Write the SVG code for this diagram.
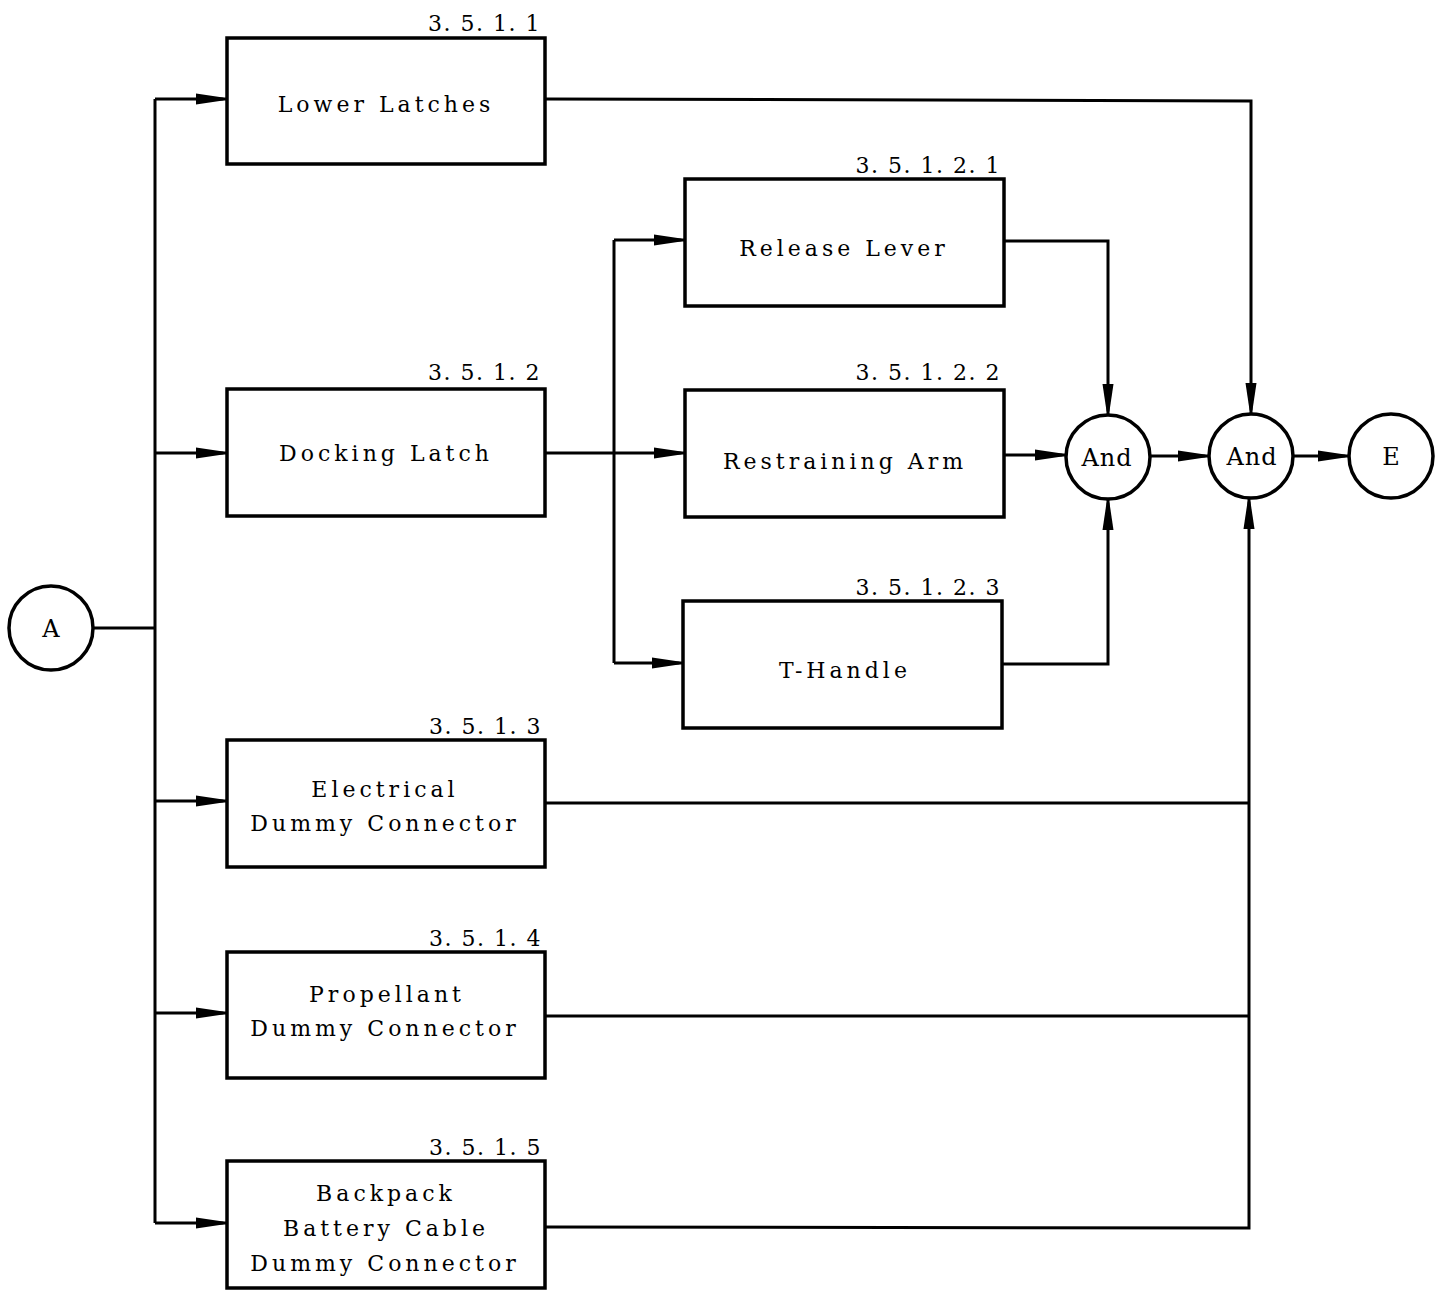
<svg xmlns="http://www.w3.org/2000/svg" width="1445" height="1290" viewBox="0 0 1445 1290">
<defs>
<marker id="arr" markerWidth="30" markerHeight="14" refX="30" refY="7" orient="auto" markerUnits="userSpaceOnUse">
<path d="M0,1.5 L27,5.5 L30,7 L27,8.5 L0,12.5 Z" fill="#000"/>
</marker>
<style>
.n rect, .n circle { fill: #fff; stroke: #000; stroke-width: 3.5; }
.c path { fill: none; stroke: #000; stroke-width: 3; }
text { font-family: "DejaVu Serif", "Liberation Serif", serif; fill: #000; }
.lbl { font-size: 22px; letter-spacing: 4px; text-anchor: middle; }
.cir { font-size: 24px; letter-spacing: 1px; text-anchor: middle; }
.num { font-size: 22px; letter-spacing: 1.5px; text-anchor: end; }
</style>
</defs>
<rect width="1445" height="1290" fill="#fff"/>
<g class="c" id="connectors">
<path d="M93,628 H155"/>
<path d="M155,99 V1223"/>
<path d="M155,99 H226" marker-end="url(#arr)"/>
<path d="M155,453 H226" marker-end="url(#arr)"/>
<path d="M155,801 H226" marker-end="url(#arr)"/>
<path d="M155,1013 H226" marker-end="url(#arr)"/>
<path d="M155,1223 H226" marker-end="url(#arr)"/>
<path d="M545,99 L1251,101 V413" marker-end="url(#arr)"/>
<path d="M545,453 H684" marker-end="url(#arr)"/>
<path d="M614,240 V663"/>
<path d="M614,240 H684" marker-end="url(#arr)"/>
<path d="M614,663 H682" marker-end="url(#arr)"/>
<path d="M1004,241 H1108 V414" marker-end="url(#arr)"/>
<path d="M1004,455 H1065" marker-end="url(#arr)"/>
<path d="M1002,664 H1108 V500" marker-end="url(#arr)"/>
<path d="M1150,456 H1208" marker-end="url(#arr)"/>
<path d="M1293,456 H1348" marker-end="url(#arr)"/>
<path d="M545,803 H1249"/>
<path d="M545,1016 H1249"/>
<path d="M545,1227 L1249,1228 V499" marker-end="url(#arr)"/>
</g>
<g class="n" id="nodeA"><circle cx="51" cy="628" r="42"/><text class="cir" x="51" y="637" style="letter-spacing:0">A</text></g>
<g class="n" id="lower-latches"><rect x="227" y="38" width="318" height="126"/><text class="lbl" x="386" y="112">Lower Latches</text><text class="num" x="541" y="31">3. 5. 1. 1</text></g>
<g class="n" id="docking-latch"><rect x="227" y="389" width="318" height="127"/><text class="lbl" x="386" y="461">Docking Latch</text><text class="num" x="541" y="380">3. 5. 1. 2</text></g>
<g class="n" id="release-lever"><rect x="685" y="179" width="319" height="127"/><text class="lbl" x="844" y="256">Release Lever</text><text class="num" x="1001" y="173">3. 5. 1. 2. 1</text></g>
<g class="n" id="restraining-arm"><rect x="685" y="390" width="319" height="127"/><text class="lbl" x="845" y="469">Restraining Arm</text><text class="num" x="1001" y="380">3. 5. 1. 2. 2</text></g>
<g class="n" id="t-handle"><rect x="683" y="601" width="319" height="127"/><text class="lbl" x="845" y="678">T-Handle</text><text class="num" x="1001" y="595">3. 5. 1. 2. 3</text></g>
<g class="n" id="electrical"><rect x="227" y="740" width="318" height="127"/><text class="lbl" x="385" y="797">Electrical</text><text class="lbl" x="385" y="831">Dummy Connector</text><text class="num" x="542" y="734">3. 5. 1. 3</text></g>
<g class="n" id="propellant"><rect x="227" y="952" width="318" height="126"/><text class="lbl" x="387" y="1002">Propellant</text><text class="lbl" x="385" y="1036">Dummy Connector</text><text class="num" x="542" y="946">3. 5. 1. 4</text></g>
<g class="n" id="backpack"><rect x="227" y="1161" width="318" height="127"/><text class="lbl" x="386" y="1201">Backpack</text><text class="lbl" x="386" y="1236">Battery Cable</text><text class="lbl" x="385" y="1271">Dummy Connector</text><text class="num" x="542" y="1155">3. 5. 1. 5</text></g>
<g class="n" id="and1"><circle cx="1108" cy="457" r="42"/><text class="cir" x="1107" y="466">And</text></g>
<g class="n" id="and2"><circle cx="1251" cy="456" r="42"/><text class="cir" x="1252" y="465">And</text></g>
<g class="n" id="nodeE"><circle cx="1391" cy="456" r="42"/><text class="cir" x="1391" y="465" style="letter-spacing:0">E</text></g>
</svg>
